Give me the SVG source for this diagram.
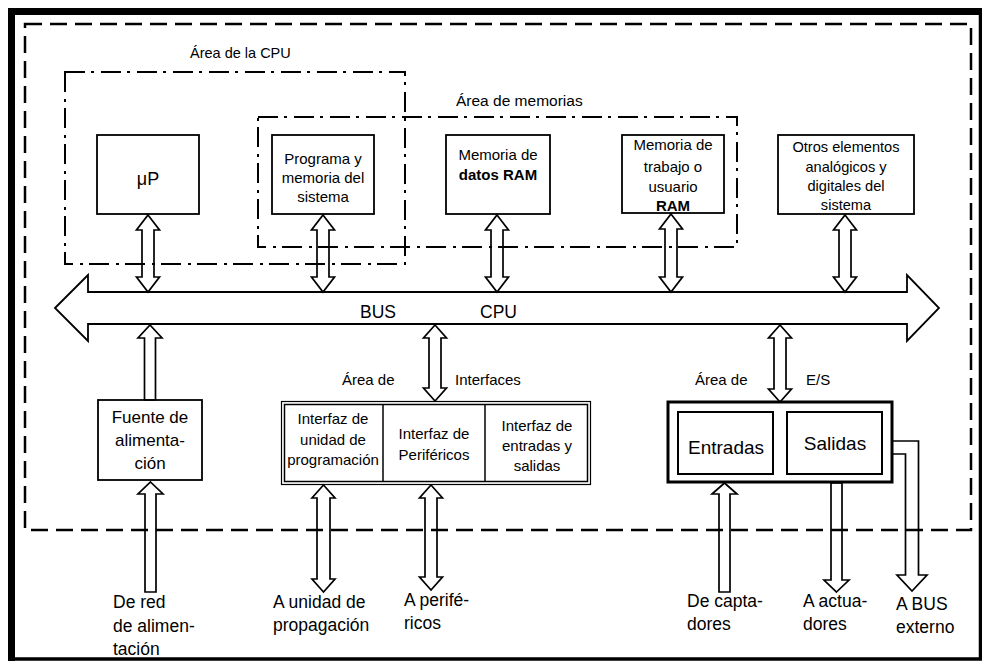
<svg xmlns="http://www.w3.org/2000/svg" width="982" height="662" viewBox="0 0 982 662">
<style>
text{font-family:"Liberation Sans",Arial,sans-serif;fill:#000}
.box{fill:#fff;stroke:#000;stroke-width:1.8}
.t15{font-size:15px;text-anchor:middle}
.t14{font-size:14.6px;text-anchor:middle}
.lab{font-size:15px}
.bot{font-size:17.5px}
.arr{fill:none;stroke:#000;stroke-width:1.7;stroke-linejoin:miter}
.dd{fill:none;stroke:#000;stroke-width:2;stroke-dasharray:20 6 3 7}
.b{font-weight:bold}
</style>
<rect x="0" y="0" width="982" height="662" fill="#fff"/>
<g id="frame">
<path d="M11.5,661 V11.5 H982" fill="none" stroke="#000" stroke-width="7"/>
<path d="M11,659 H980.5 V12" fill="none" stroke="#000" stroke-width="3.5"/>
<rect x="25" y="24" width="946" height="506" fill="none" stroke="#000" stroke-width="2.5" stroke-dasharray="17 8"/>
</g>
<g id="area-cpu">
<rect class="dd" x="65" y="72" width="340" height="192"/>
<text x="190" y="58" style="font-size:14.5px">Área de la CPU</text>
</g>
<g id="area-memorias">
<rect class="dd" x="258" y="117" width="479" height="130"/>
<text x="456" y="106" style="font-size:15.5px">Área de memorias</text>
</g>
<g id="up">
<rect class="box" x="97" y="135" width="102" height="79"/>
<text x="148" y="185" style="font-size:18px;text-anchor:middle">μP</text>
</g>
<g id="programa">
<rect class="box" x="272" y="135" width="102" height="79"/>
<text class="t15" x="323" y="164">Programa y</text>
<text class="t15" x="323" y="183">memoria del</text>
<text class="t15" x="323" y="202">sistema</text>
</g>
<g id="mem-datos">
<rect class="box" x="446" y="135" width="104" height="79"/>
<text class="t15" x="498" y="160">Memoria de</text>
<text class="t15 b" x="498" y="180">datos RAM</text>
</g>
<g id="mem-trabajo">
<rect class="box" x="622" y="135" width="102" height="78"/>
<text class="t15" x="673" y="150">Memoria de</text>
<text class="t15" x="673" y="172">trabajo o</text>
<text class="t15" x="673" y="192">usuario</text>
<text class="t15 b" x="673" y="211">RAM</text>
</g>
<g id="otros">
<rect class="box" x="778" y="135" width="136" height="79"/>
<text class="t14" x="846" y="152">Otros elementos</text>
<text class="t14" x="846" y="172">analógicos y</text>
<text class="t14" x="846" y="191">digitales del</text>
<text class="t14" x="846" y="210">sistema</text>
</g>
<g id="bus">
<polygon points="55,308 88,275 88,292 907,292 907,275 939,308 907,341 907,324 88,324 88,341" fill="#fff" stroke="#000" stroke-width="1.8"/>
<text x="360" y="318" style="font-size:17.5px">BUS</text>
<text x="480" y="318" style="font-size:17.5px">CPU</text>
</g>
<g id="fuente">
<rect class="box" x="98" y="400" width="104" height="80"/>
<text x="150" y="423" style="font-size:17px;text-anchor:middle">Fuente de</text>
<text x="150" y="446" style="font-size:17px;text-anchor:middle">alimenta-</text>
<text x="150" y="469" style="font-size:17px;text-anchor:middle">ción</text>
</g>
<g id="interfaces">
<text x="342" y="385" class="lab">Área de</text>
<text x="455" y="385" class="lab">Interfaces</text>
<rect x="281.5" y="401.5" width="309" height="83" fill="#fff" stroke="#000" stroke-width="1.2"/>
<rect x="284.5" y="404.5" width="303" height="77" fill="none" stroke="#000" stroke-width="1.5"/>
<line x1="383" y1="404.5" x2="383" y2="481.5" stroke="#000" stroke-width="1.5"/>
<line x1="485" y1="404.5" x2="485" y2="481.5" stroke="#000" stroke-width="1.5"/>
<text class="t15" x="333" y="424">Interfaz de</text>
<text class="t15" x="333" y="445">unidad de</text>
<text class="t15" x="333" y="465">programación</text>
<text class="t15" x="434" y="439">Interfaz de</text>
<text class="t15" x="434" y="460">Periféricos</text>
<text class="t15" x="537" y="431">Interfaz de</text>
<text class="t15" x="537" y="451">entradas y</text>
<text class="t15" x="537" y="471">salidas</text>
</g>
<g id="es">
<text x="695" y="385" class="lab">Área de</text>
<text x="806" y="385" class="lab">E/S</text>
<rect x="668" y="402" width="224" height="80" fill="#fff" stroke="#000" stroke-width="3"/>
<rect x="678" y="412" width="95" height="62" fill="#fff" stroke="#000" stroke-width="2"/>
<rect x="787" y="412" width="95" height="62" fill="#fff" stroke="#000" stroke-width="2"/>
<text x="726" y="454" style="font-size:19px;text-anchor:middle">Entradas</text>
<text x="835" y="450" style="font-size:19px;text-anchor:middle">Salidas</text>
</g>
<g id="connectors">
<polygon class="arr" points="148,215 159.5,230 154,230 154,277 159.5,277 148,292 136.5,277 142,277 142,230 136.5,230"/>
<polygon class="arr" points="323,215 334.5,230 329,230 329,277 334.5,277 323,292 311.5,277 317,277 317,230 311.5,230"/>
<polygon class="arr" points="497,215 508.5,230 503,230 503,277 508.5,277 497,292 485.5,277 491,277 491,230 485.5,230"/>
<polygon class="arr" points="671,214 682.5,229 677,229 677,277 682.5,277 671,292 659.5,277 665,277 665,229 659.5,229"/>
<polygon class="arr" points="845,215 856.5,230 851,230 851,277 856.5,277 845,292 833.5,277 839,277 839,230 833.5,230"/>
<polygon class="arr" points="150,325 162,338 155.5,338 155.5,400 144.5,400 144.5,338 138,338"/>
<polygon class="arr" points="435,325 446.5,338 441,338 441,388 446.5,388 435,401 423.5,388 429,388 429,338 423.5,338"/>
<polygon class="arr" points="780,325 791.5,338 786,338 786,389 791.5,389 780,402 768.5,389 774,389 774,338 768.5,338"/>
<polygon class="arr" points="150.5,482 163,494 156,494 156,592 145,592 145,494 138,494"/>
<polygon class="arr" points="323.5,485 335,498 330,498 330,579 335,579 323.5,592 312,579 317,579 317,498 312,498"/>
<polygon class="arr" points="431,485 442.5,498 437,498 437,577 442.5,577 431,590 419.5,577 425,577 425,498 419.5,498"/>
<polygon class="arr" points="724.5,483 737,494 730,494 730,592 719,592 719,494 712,494"/>
<polygon class="arr" points="836.5,592 849,580 842,580 842,483 831,483 831,580 824,580"/>
<polyline class="arr" points="893,441 918.5,441 918.5,575 927,575 912,591 897,575 905.5,575 905.5,454 893,454"/>
</g>
<g id="labels-bottom" class="bot">
<text x="113" y="608">De red</text>
<text x="113" y="632">de alimen-</text>
<text x="113" y="655">tación</text>
<text x="273" y="608">A unidad de</text>
<text x="273" y="631">propagación</text>
<text x="404" y="606">A perifé-</text>
<text x="404" y="629">ricos</text>
<text x="687" y="607">De capta-</text>
<text x="687" y="630">dores</text>
<text x="803" y="607">A actua-</text>
<text x="803" y="630">dores</text>
<text x="896" y="610">A BUS</text>
<text x="896" y="633">externo</text>
</g>
</svg>
